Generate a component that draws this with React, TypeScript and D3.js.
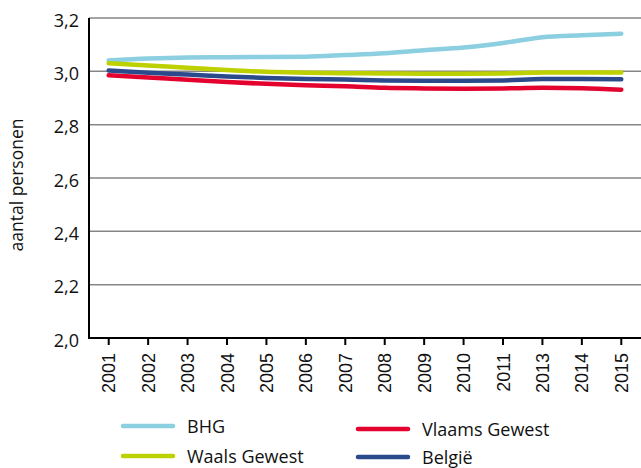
import React, { useEffect, useRef } from 'react';
import * as d3 from 'd3';

const years = ['2001', '2002', '2003', '2004', '2005', '2006', '2007', '2008', '2009', '2010', '2011', '2013', '2014', '2015'];
const bhg = [3.041, 3.048, 3.052, 3.053, 3.054, 3.055, 3.061, 3.068, 3.079, 3.089, 3.106, 3.128, 3.135, 3.141];
const vlaams = [2.985, 2.977, 2.968, 2.960, 2.953, 2.948, 2.944, 2.938, 2.936, 2.935, 2.936, 2.938, 2.937, 2.931];
const belgie = [3.003, 2.995, 2.988, 2.981, 2.975, 2.971, 2.969, 2.966, 2.965, 2.965, 2.966, 2.971, 2.971, 2.970];
const waals = [3.030, 3.022, 3.013, 3.005, 2.998, 2.995, 2.993, 2.992, 2.991, 2.991, 2.992, 2.996, 2.996, 2.996];
const yTicks = [2.0, 2.2, 2.4, 2.6, 2.8, 3.0, 3.2];

const series = [
  { name: 'BHG', values: bhg, color: '#8bcfe0' },
  { name: 'Vlaams Gewest', values: vlaams, color: '#e4032e' },
  { name: 'België', values: belgie, color: '#2a4a8c' },
  { name: 'Waals Gewest', values: waals, color: '#bdd000' },
];

const legend = [
  { name: 'BHG', color: '#8bcfe0', x: 123, y: 426 },
  { name: 'Waals Gewest', color: '#bdd000', x: 123, y: 456 },
  { name: 'Vlaams Gewest', color: '#e4032e', x: 358, y: 429 },
  { name: 'België', color: '#2a4a8c', x: 358, y: 457 },
];

const W = 641;
const H = 468;

const App = () => {
  const svgRef = useRef<SVGSVGElement>(null);

  useEffect(() => {
    const svg = d3.select(svgRef.current);
    svg.selectAll('*').remove();

    const margin = { top: 18, right: 0, bottom: 130, left: 89 };
    const x = d3.scaleBand().domain(years).range([margin.left, W - margin.right]);
    const y = d3.scaleLinear().domain([2.0, 3.2]).range([H - margin.bottom, margin.top]);

    // gridlines
    svg.append('g')
      .selectAll('line')
      .data(yTicks.filter(d => d > 2.0))
      .join('line')
      .attr('x1', margin.left)
      .attr('x2', W)
      .attr('y1', d => y(d))
      .attr('y2', d => y(d))
      .attr('stroke', '#868686')
      .attr('stroke-width', 1.5);

    // y labels
    svg.append('g')
      .selectAll('text')
      .data(yTicks)
      .join('text')
      .attr('x', 79)
      .attr('y', d => y(d) + 8.5)
      .attr('text-anchor', 'end')
      .style('font-family', '"Open Sans", sans-serif')
      .style('font-size', '18px')
      .style('fill', '#111')
      .text(d => d.toFixed(1).replace('.', ','));

    // y title
    svg.append('text')
      .attr('transform', `translate(23, 185) rotate(-90)`)
      .attr('text-anchor', 'middle')
      .style('font-family', '"Open Sans", sans-serif')
      .style('font-size', '17.5px')
      .style('fill', '#111')
      .text('aantal personen');

    // axes
    svg.append('line')
      .attr('x1', margin.left).attr('x2', margin.left)
      .attr('y1', margin.top).attr('y2', y(2.0))
      .attr('stroke', '#000').attr('stroke-width', 2);
    svg.append('line')
      .attr('x1', margin.left - 1).attr('x2', W)
      .attr('y1', y(2.0)).attr('y2', y(2.0))
      .attr('stroke', '#000').attr('stroke-width', 2);

    const cx = (d: string) => (x(d) as number) + x.bandwidth() / 2;

    svg.append('g')
      .selectAll('line')
      .data(years)
      .join('line')
      .attr('x1', cx).attr('x2', cx)
      .attr('y1', y(2.0)).attr('y2', y(2.0) + 7)
      .attr('stroke', '#000').attr('stroke-width', 2);

    svg.append('g')
      .selectAll('text')
      .data(years)
      .join('text')
      .attr('transform', d => `translate(${cx(d) + 6.5}, ${y(2.0) + 15}) rotate(-90)`)
      .attr('text-anchor', 'end')
      .style('font-family', '"Liberation Sans", Arial, sans-serif')
      .style('font-size', '18px')
      .style('fill', '#111')
      .text(d => d);

    // lines
    const line = d3.line<number>()
      .x((d, i) => cx(years[i]))
      .y(d => y(d))
      .curve(d3.curveMonotoneX);

    svg.append('g')
      .selectAll('path')
      .data(series)
      .join('path')
      .attr('d', d => line(d.values))
      .attr('fill', 'none')
      .attr('stroke', d => d.color)
      .attr('stroke-width', 4.5)
      .attr('stroke-linecap', 'round');

    // legend
    const lg = svg.append('g')
      .selectAll('g')
      .data(legend)
      .join('g');
    lg.append('line')
      .attr('x1', d => d.x).attr('x2', d => d.x + 50)
      .attr('y1', d => d.y).attr('y2', d => d.y)
      .attr('stroke', d => d.color)
      .attr('stroke-width', 4.5)
      .attr('stroke-linecap', 'round');
    lg.append('text')
      .attr('x', d => d.x + 64)
      .attr('y', d => d.y + 7)
      .style('font-family', '"Open Sans", sans-serif')
      .style('font-size', '18px')
      .style('fill', '#111')
      .text(d => d.name);
  }, []);

  return <svg ref={svgRef} width={W} height={H} style={{ position: 'absolute', left: 0, top: 0, background: '#fff' }}></svg>;
};

export default App;
